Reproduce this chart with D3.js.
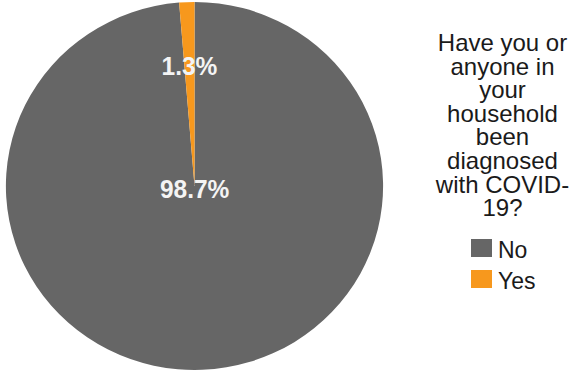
<!DOCTYPE html>
<html>
<head>
<meta charset="utf-8">
<script src="https://cdn.jsdelivr.net/npm/d3@7/dist/d3.min.js"></script>
<style>
  html, body { margin: 0; padding: 0; background: #fff; }
  svg { display: block; font-family: "Liberation Sans", Arial, sans-serif; }
</style>
</head>
<body>
<svg id="chart" width="573" height="371"></svg>
<script>
// Survey answers and their shares (percent)
const categories = ["No", "Yes"];
const shares = [98.7, 1.3];
const colors = ["#666666", "#F7981D"];
const titleLines = ["Have you or", "anyone in", "your", "household", "been", "diagnosed", "with COVID-", "19?"];

const svg = d3.select("#chart");

const cx = 194.5, cy = 186, r = 184;

const data = categories.map((c, i) => ({ category: c, value: shares[i] }));

const color = d3.scaleOrdinal().domain(categories).range(colors);

const pie = d3.pie().sort(null).value(d => d.value);
const arcs = pie(data);

const arc = d3.arc().innerRadius(0).outerRadius(r);

const g = svg.append("g")
  .attr("transform", `translate(${cx},${cy}) scale(1.025,1)`);

g.selectAll("path.slice")
  .data(arcs)
  .join("path")
  .attr("class", "slice")
  .attr("d", arc)
  .attr("fill", d => color(d.data.category));

// Labels: the small slice is labelled inside near its rim, the large one near the centre
const labelRadius = d => (d.endAngle - d.startAngle) > Math.PI ? 3 : r * 0.655;
g.selectAll("text.val")
  .data(arcs)
  .join("text")
  .attr("class", "val")
  .attr("transform", d => {
    const lr = labelRadius(d);
    const [x, y] = d3.arc().innerRadius(lr).outerRadius(lr).centroid(d);
    return `translate(${x},${y}) scale(${1/1.025},1.04)`;
  })
  .attr("text-anchor", "middle")
  .attr("dy", "0.36em")
  .attr("fill", "#f4f4f4")
  .attr("font-weight", "bold")
  .attr("font-size", 24.5)
  .text(d => d.data.value.toFixed(1) + "%");

// Legend title
const legendX = 502.5;
const title = svg.append("text")
  .attr("text-anchor", "middle")
  .attr("fill", "#1a1a1a")
  .attr("font-size", 24);
title.selectAll("tspan")
  .data(titleLines)
  .join("tspan")
  .attr("x", legendX)
  .attr("y", (d, i) => 51 + i * 23.6)
  .text(d => d);

// Legend entries
const items = svg.append("g").selectAll("g.item")
  .data(categories)
  .join("g")
  .attr("class", "item")
  .attr("transform", (d, i) => `translate(471,${239 + i * 31})`);
items.append("rect")
  .attr("width", 21)
  .attr("height", 18)
  .attr("fill", d => color(d));
items.append("text")
  .attr("x", 27)
  .attr("y", 19)
  .attr("font-size", 23)
  .attr("fill", "#1a1a1a")
  .text(d => d);
</script>
</body>
</html>
